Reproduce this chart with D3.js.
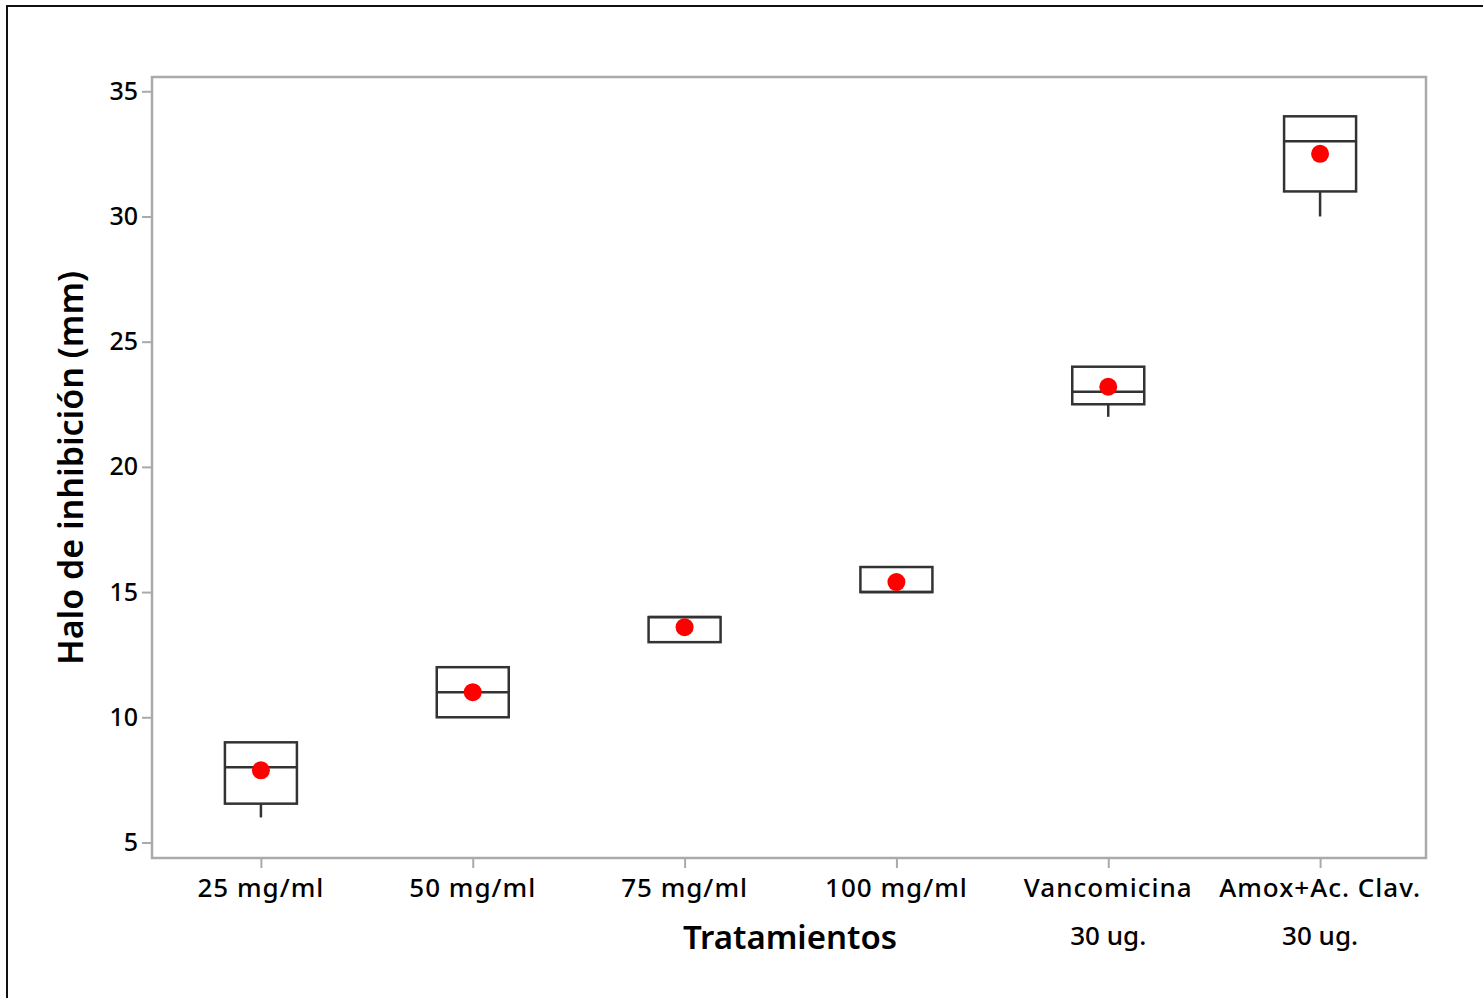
<!DOCTYPE html>
<html>
<head>
<meta charset="utf-8">
<script src="https://cdn.jsdelivr.net/npm/d3@7"></script>
<style>
  body { margin: 0; background: #fff; }
  svg { display: block; font-family: "Noto Sans", sans-serif; }
</style>
</head>
<body>
<div id="chart"></div>
<script>
// treatments, each label may have two lines
var categories = [
  ['25 mg/ml'],
  ['50 mg/ml'],
  ['75 mg/ml'],
  ['100 mg/ml'],
  ['Vancomicina', '30 ug.'],
  ['Amox+Ac. Clav.', '30 ug.']
];
var minVals = [6, 10, 13, 15, 22, 30];
var q1Vals = [6.55, 10, 13, 15, 22.5, 31];
var medianVals = [8, 11, 14, 15, 23, 33];
var q3Vals = [9, 12, 14, 16, 24, 34];
var maxVals = [9, 12, 14, 16, 24, 34];
var meanVals = [7.88, 11, 13.6, 15.4, 23.2, 32.5];
var yTicks = [5, 10, 15, 20, 25, 30, 35];

var width = 1483, height = 998;
var frame = { left: 152, right: 1426, top: 77, bottom: 858 };

var svg = d3.select('#chart')
  .append('svg')
  .attr('width', width)
  .attr('height', height);

// outer border (only left and top are in view)
svg.append('path')
  .attr('d', 'M7,' + height + 'V6H' + width)
  .attr('fill', 'none')
  .attr('stroke', '#111')
  .attr('stroke-width', 2);

var idx = categories.map(function(d, i) { return i; });

var x = d3.scalePoint()
  .domain(idx)
  .range([frame.left + 3, frame.right])
  .padding(0.5);

var y = d3.scaleLinear()
  .domain([4.38, 35.57])
  .range([frame.bottom, frame.top]);

// plot frame
svg.append('rect')
  .attr('x', frame.left)
  .attr('y', frame.top)
  .attr('width', frame.right - frame.left)
  .attr('height', frame.bottom - frame.top)
  .attr('fill', 'none')
  .attr('stroke', '#aaaaaa')
  .attr('stroke-width', 2.5);

// y axis
var yAxis = svg.append('g')
  .attr('transform', 'translate(' + frame.left + ',0)')
  .call(d3.axisLeft(y).tickValues(yTicks).tickSize(10).tickPadding(4));
yAxis.select('.domain').remove();
yAxis.selectAll('.tick line').attr('stroke', '#aaaaaa').attr('stroke-width', 2);
yAxis.selectAll('.tick text')
  .attr('fill', '#000')
  .style('font-size', '25px')
  .style('font-weight', 500)
  .style('font-family', '"Noto Sans", sans-serif');

// x axis
var xAxis = svg.append('g')
  .attr('transform', 'translate(0,' + frame.bottom + ')')
  .call(d3.axisBottom(x).tickSize(10).tickFormat(''));
xAxis.select('.domain').remove();
xAxis.selectAll('.tick line').attr('stroke', '#aaaaaa').attr('stroke-width', 2);
xAxis.selectAll('.tick text').remove();

var labels = svg.append('g').selectAll('text')
  .data(idx)
  .enter().append('text')
  .attr('text-anchor', 'middle')
  .attr('fill', '#000')
  .style('font-size', '26px')
  .style('font-weight', 500)
  .style('letter-spacing', '1px');
labels.each(function(i) {
  var t = d3.select(this);
  categories[i].forEach(function(line, k) {
    t.append('tspan')
      .attr('x', x(i))
      .attr('y', k === 0 ? 897 : 945)
      .style('letter-spacing', k === 0 ? '1px' : '0px')
      .text(line);
  });
});

// axis titles
svg.append('text')
  .attr('x', 790)
  .attr('y', 949)
  .attr('text-anchor', 'middle')
  .style('font-size', '33px')
  .style('font-weight', 600)
  .text('Tratamientos');

svg.append('text')
  .attr('transform', 'translate(83,468) rotate(-90)')
  .attr('text-anchor', 'middle')
  .style('font-size', '34px')
  .style('font-weight', 600)
  .text('Halo de inhibición (mm)');

// boxes
var boxW = 72;
var boxes = svg.append('g')
  .selectAll('g')
  .data(idx)
  .enter().append('g')
  .attr('stroke', '#333')
  .attr('stroke-width', 2.5)
  .attr('fill', 'none');

boxes.append('line')
  .attr('x1', function(i) { return x(i); })
  .attr('x2', function(i) { return x(i); })
  .attr('y1', function(i) { return y(minVals[i]); })
  .attr('y2', function(i) { return y(q1Vals[i]); });

boxes.append('line')
  .attr('x1', function(i) { return x(i); })
  .attr('x2', function(i) { return x(i); })
  .attr('y1', function(i) { return y(maxVals[i]); })
  .attr('y2', function(i) { return y(q3Vals[i]); });

boxes.append('rect')
  .attr('x', function(i) { return x(i) - boxW / 2; })
  .attr('y', function(i) { return y(q3Vals[i]); })
  .attr('width', boxW)
  .attr('height', function(i) { return y(q1Vals[i]) - y(q3Vals[i]); });

boxes.append('line')
  .attr('x1', function(i) { return x(i) - boxW / 2; })
  .attr('x2', function(i) { return x(i) + boxW / 2; })
  .attr('y1', function(i) { return y(medianVals[i]); })
  .attr('y2', function(i) { return y(medianVals[i]); });

// mean points
svg.append('g')
  .selectAll('circle')
  .data(idx)
  .enter().append('circle')
  .attr('cx', function(i) { return x(i); })
  .attr('cy', function(i) { return y(meanVals[i]); })
  .attr('r', 9)
  .attr('fill', '#ff0000');
</script>
</body>
</html>
